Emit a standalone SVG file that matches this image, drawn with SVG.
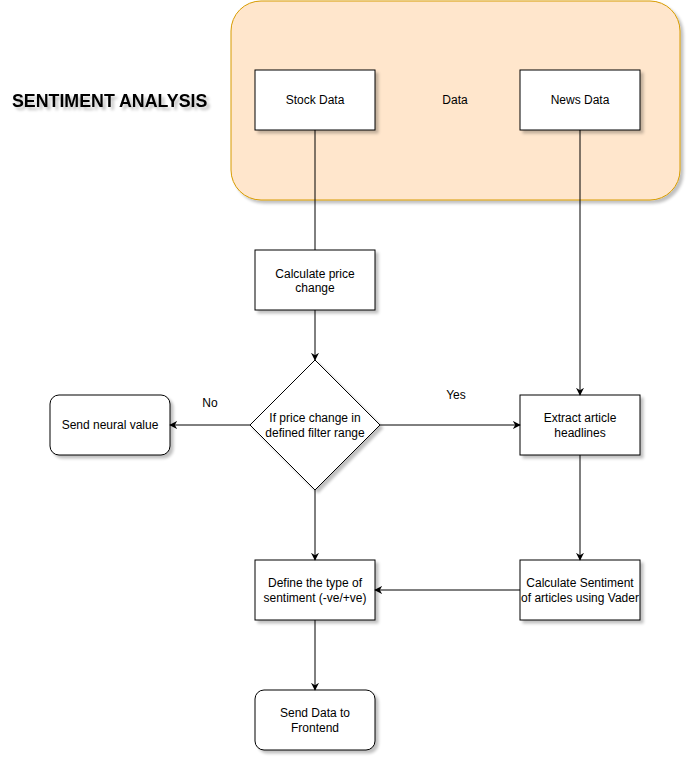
<svg xmlns="http://www.w3.org/2000/svg" width="692" height="762" viewBox="0 0 692 762">
<defs>
<filter id="sh" x="-10%" y="-10%" width="130%" height="130%">
<feGaussianBlur in="SourceAlpha" stdDeviation="1.5"/>
<feOffset dx="3" dy="3" result="b"/>
<feComponentTransfer><feFuncA type="linear" slope="0.25"/></feComponentTransfer>
<feMerge><feMergeNode/><feMergeNode in="SourceGraphic"/></feMerge>
</filter>
<marker id="ar" viewBox="0 0 10 10" refX="9" refY="5" markerWidth="8" markerHeight="8" orient="auto" markerUnits="userSpaceOnUse">
<path d="M0,0 L10,5 L0,10 L3,5 Z" fill="#000"/>
</marker>
</defs>
<style>
.box{fill:#fff;stroke:#000;stroke-width:1;filter:url(#sh)}
.t{font-family:"Liberation Sans",Arial,sans-serif;font-size:12px;text-anchor:middle;fill:#000}
.e{fill:none;stroke:#000;stroke-width:1}
.ea{fill:none;stroke:#000;stroke-width:1;marker-end:url(#ar)}
</style>
<rect width="692" height="762" fill="#fff"/>
<g id="title">
<text x="12" y="107" font-family="'Liberation Sans',Arial,sans-serif" font-size="17.8" font-weight="bold" fill="#000" filter="url(#sh)">SENTIMENT ANALYSIS</text>
</g>
<g id="data-group">
<rect x="231" y="1" width="449" height="199" rx="30" ry="30" fill="#ffe6cc" stroke="#d79b00" stroke-width="1" filter="url(#sh)"/>
<text class="t" x="455" y="104">Data</text>
</g>
<g id="stock">
<rect class="box" x="255" y="70" width="120" height="60"/>
<text class="t" x="315" y="104">Stock Data</text>
</g>
<g id="news">
<rect class="box" x="520" y="70" width="120" height="60"/>
<text class="t" x="580" y="104">News Data</text>
</g>
<g id="calcprice">
<rect class="box" x="255" y="250" width="120" height="60"/>
<text class="t" x="315" y="278">Calculate price</text>
<text class="t" x="315" y="292">change</text>
</g>
<g id="decision">
<path class="box" d="M315,360 L380,425 L315,490 L250,425 Z"/>
<text class="t" x="315" y="422">If price change in</text>
<text class="t" x="315" y="437">defined filter range</text>
</g>
<g id="neural">
<rect class="box" x="50" y="395" width="120" height="60" rx="9" ry="9"/>
<text class="t" x="110" y="429">Send neural value</text>
</g>
<g id="extract">
<rect class="box" x="520" y="395" width="120" height="60"/>
<text class="t" x="580" y="422">Extract article</text>
<text class="t" x="580" y="437">headlines</text>
</g>
<g id="define">
<rect class="box" x="255" y="560" width="120" height="60"/>
<text class="t" x="315" y="587">Define the type of</text>
<text class="t" x="315" y="602">sentiment (-ve/+ve)</text>
</g>
<g id="calcsent">
<rect class="box" x="520" y="560" width="120" height="60"/>
<text class="t" x="580" y="587">Calculate Sentiment</text>
<text class="t" x="580" y="602">of articles using Vader</text>
</g>
<g id="frontend">
<rect class="box" x="255" y="690" width="120" height="60" rx="9" ry="9"/>
<text class="t" x="315" y="717">Send Data to</text>
<text class="t" x="315" y="732">Frontend</text>
</g>
<g id="connectors">
<path class="e" d="M315,130 L315,250"/>
<path class="ea" d="M580,130 L580,395"/>
<path class="ea" d="M315,310 L315,360"/>
<path class="ea" d="M250,425 L170,425"/>
<path class="ea" d="M380,425 L520,425"/>
<path class="ea" d="M315,490 L315,560"/>
<path class="ea" d="M580,455 L580,560"/>
<path class="ea" d="M520,590 L375,590"/>
<path class="ea" d="M315,620 L315,690"/>
<text class="t" x="210" y="407">No</text>
<text class="t" x="456" y="399">Yes</text>
</g>
</svg>
